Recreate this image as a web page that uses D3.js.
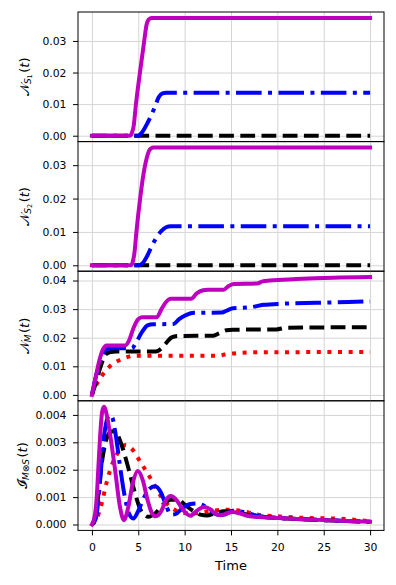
<!DOCTYPE html>
<html>
<head>
<meta charset="utf-8">
<script src="https://cdn.jsdelivr.net/npm/d3@7"></script>
<style>
  body { margin: 0; background: #fff; }
  text { font-family: "DejaVu Sans", sans-serif; }
</style>
</head>
<body>
<div id="chart"></div>
<script>
// ---------------- data ----------------
var xTicks = [0, 5, 10, 15, 20, 25, 30];
var yTicks1 = [0, 0.01, 0.02, 0.03];
var yTicks2 = [0, 0.01, 0.02, 0.03];
var yTicks3 = [0, 0.01, 0.02, 0.03, 0.04];
var yTicks4 = [0, 0.001, 0.002, 0.003, 0.004];

// panel 1 : N_S1(t)
var s1Black = [[0, 0], [30, 0]];
var s1Blue = [[0, 0], [5.0, 0], [5.4, 0.001], [5.9, 0.0035], [6.4, 0.0065], [6.8, 0.0092],
  [7.2, 0.0122], [7.6, 0.0134], [8.0, 0.0136], [30, 0.0136]];
var s1Magenta = [[0, 0], [4.1, 0], [4.3, 0.0008], [4.5, 0.003], [4.75, 0.01], [5.18, 0.02],
  [5.64, 0.03], [5.9, 0.0352], [6.1, 0.0367], [6.4, 0.0373], [30, 0.0373]];

// panel 2 : N_S2(t)
var s2Black = [[0, 0], [30, 0]];
var s2Blue = [[0, 0], [5.1, 0], [5.5, 0.0007], [6.0, 0.003], [6.5, 0.006], [7.0, 0.0085],
  [7.5, 0.0103], [8.0, 0.0114], [8.5, 0.0117], [30, 0.0117]];
var s2Magenta = [[0, 0], [4.2, 0], [4.4, 0.001], [4.6, 0.004], [4.8, 0.01], [5.2, 0.02],
  [5.6, 0.028], [5.9, 0.032], [6.2, 0.0345], [6.6, 0.0353], [30, 0.0353]];

// panel 3 : N_M(t)
var mRed = [[0, 0], [0.5, 0.0037], [1.0, 0.0063], [1.5, 0.0085], [2.0, 0.0102], [2.5, 0.0114],
  [3.0, 0.0122], [3.5, 0.0129], [4.0, 0.0134], [4.5, 0.0137], [13.6, 0.0137], [14.3, 0.0141],
  [15.0, 0.0144], [16, 0.0147], [18, 0.0149], [30, 0.015]];
var mBlack = [[0, 0], [0.5, 0.005], [0.9, 0.0095], [1.5, 0.0142], [2.0, 0.015], [2.6, 0.0152],
  [6.9, 0.0152], [7.5, 0.0163], [8.05, 0.0183], [8.6, 0.0201], [9.3, 0.0206], [13.1, 0.0207],
  [13.7, 0.0215], [14.5, 0.0226], [15.2, 0.0228], [19.9, 0.0229], [21, 0.0235], [25, 0.0236], [30, 0.0237]];
var mBlue = [[0, 0], [0.4, 0.006], [0.8, 0.011], [1.2, 0.0145], [1.6, 0.016], [2.2, 0.0163],
  [4.3, 0.0163], [4.8, 0.0185], [5.4, 0.022], [6.0, 0.0243], [6.6, 0.0247], [8.8, 0.0248],
  [9.4, 0.0265], [10.2, 0.028], [11.0, 0.0287], [14.0, 0.0288], [14.6, 0.0296], [15.2, 0.0303],
  [17, 0.0306], [18.5, 0.0315], [20.6, 0.0319], [24.2, 0.0322], [30, 0.0327]];
var mMagenta = [[0, 0], [0.4, 0.006], [0.8, 0.012], [1.2, 0.016], [1.6, 0.0173], [3.6, 0.0173],
  [4.0, 0.019], [4.5, 0.0235], [5.0, 0.0265], [5.4, 0.0272], [7.0, 0.0272], [7.5, 0.030],
  [8.0, 0.0325], [8.5, 0.0336], [10.7, 0.0336], [11.3, 0.0355], [12.0, 0.0366], [12.5, 0.0368],
  [14.2, 0.0368], [14.7, 0.038], [15.3, 0.0388], [17.8, 0.039], [18.4, 0.0397], [19.2, 0.040],
  [22, 0.0405], [26, 0.041], [30, 0.0412]];

// panel 4 : I_{M(x)S}(t)
var iRed = [[0, 0], [0.5, 0.0002], [1.0, 0.0007], [1.6, 0.00155], [2.3, 0.0023], [3.0, 0.0027],
  [3.6, 0.0029], [4.2, 0.0028], [5.2, 0.0023], [6.3, 0.0017], [7.5, 0.001], [8.6, 0.0006],
  [9.6, 0.00045], [10.8, 0.0004], [12, 0.00045], [13, 0.0005], [14.3, 0.00054], [15.6, 0.00052],
  [16.7, 0.00046], [17.9, 0.00036], [20, 0.0003], [22.4, 0.00025], [27.3, 0.0002], [30, 0.00012]];
var iBlack = [[0, 0], [0.3, 0.00015], [0.7, 0.0011], [1.05, 0.0022], [1.4, 0.0029], [1.8, 0.0033],
  [2.2, 0.0034], [2.7, 0.0033], [3.3, 0.0028], [3.9, 0.0021], [4.6, 0.0012], [5.3, 0.0005],
  [6.1, 0.00028], [6.8, 0.0004], [7.6, 0.0007], [8.5, 0.0009], [9.3, 0.0009], [10.1, 0.0007],
  [10.9, 0.0005], [11.7, 0.00036], [12.4, 0.00033], [13.2, 0.0004], [14.2, 0.00048], [15.0, 0.00048],
  [16, 0.00042], [17, 0.00034], [18, 0.0003], [21, 0.00022], [25, 0.00016], [30, 0.0001]];
var iBlue = [[0, 0], [0.4, 0.0002], [0.7, 0.0009], [1.0, 0.0021], [1.3, 0.0032], [1.6, 0.0038],
  [1.9, 0.004], [2.2, 0.0039], [2.6, 0.0032], [3.0, 0.0022], [3.5, 0.0011], [4.0, 0.0004],
  [4.45, 0.00022], [5.0, 0.0005], [5.5, 0.0009], [6.2, 0.0013], [6.8, 0.0014], [7.4, 0.0012],
  [8.0, 0.0007], [8.5, 0.00036], [9.0, 0.00038], [9.8, 0.0006], [10.6, 0.00075], [11.3, 0.00077],
  [12.0, 0.0007], [12.8, 0.0005], [13.6, 0.00036], [14.2, 0.00036], [15.2, 0.0005], [16, 0.00048],
  [17, 0.0004], [18, 0.0003], [21, 0.00022], [25, 0.00016], [30, 0.0001]];
var iMagenta = [[0, 0], [0.3, 0.0003], [0.5, 0.0009], [0.7, 0.0021], [0.9, 0.0033], [1.1, 0.0041],
  [1.3, 0.0043], [1.6, 0.004], [2.0, 0.0032], [2.5, 0.002], [3.0, 0.0007], [3.45, 0.00016],
  [3.9, 0.0006], [4.4, 0.0015], [4.95, 0.00195], [5.5, 0.0016], [6.0, 0.0009], [6.5, 0.0004],
  [6.9, 0.0003], [7.5, 0.0005], [8.0, 0.0009], [8.5, 0.00104], [9.1, 0.0009], [9.7, 0.0006],
  [10.2, 0.0004], [10.6, 0.00032], [11.3, 0.0005], [12.1, 0.00064], [12.8, 0.00055], [13.3, 0.0004],
  [13.9, 0.00034], [14.5, 0.0004], [15.2, 0.00046], [16, 0.0004], [17, 0.0003], [18, 0.00027],
  [21, 0.00022], [25, 0.00016], [30, 0.0001]];

// ---------------- layout ----------------
var W = 396, H = 585;
var plotL = 78, plotR = 384, plotT = 12, panelH = 129.6;
var LW = 4;
var tickFont = "10.8px";

var styles = {
  red:     { color: "#ff0000", dash: [LW * 1, LW * 1.65].join(",") },
  black:   { color: "#000000", dash: [LW * 3.7, LW * 1.6].join(",") },
  blue:    { color: "#0000ff", dash: [LW * 6.4, LW * 1.6, LW * 1, LW * 1.6].join(",") },
  magenta: { color: "#bf00bf", dash: null }
};

var panels = [
  { ticks: yTicks1, fmt: ".2f", label: ["𝒩", "S", "1"], series: [["black", s1Black], ["blue", s1Blue], ["magenta", s1Magenta]] },
  { ticks: yTicks2, fmt: ".2f", label: ["𝒩", "S", "2"], series: [["black", s2Black], ["blue", s2Blue], ["magenta", s2Magenta]] },
  { ticks: yTicks3, fmt: ".2f", label: ["𝒩", "M", null], series: [["red", mRed], ["black", mBlack], ["blue", mBlue], ["magenta", mMagenta]] },
  { ticks: yTicks4, fmt: ".3f", label: ["𝓘", "M⊗S", null], series: [["red", iRed], ["black", iBlack], ["blue", iBlue], ["magenta", iMagenta]] }
];

var svg = d3.select("#chart").append("svg")
  .attr("width", W)
  .attr("height", H);

var x = d3.scaleLinear().domain([-1.5, 31.5]).range([plotL, plotR]);

panels.forEach(function(p, i) {
  var y0 = plotT + i * panelH, y1 = y0 + panelH;
  var allV = [];
  p.series.forEach(function(s) { s[1].forEach(function(d) { allV.push(d[1]); }); });
  var lo = d3.min(allV), hi = d3.max(allV), pad = (hi - lo) * 0.05;
  var y = d3.scaleLinear().domain([lo - pad, hi + pad]).range([y1, y0]);

  var g = svg.append("g");

  // grid
  g.append("g")
    .attr("transform", "translate(0," + y1 + ")")
    .call(d3.axisBottom(x).tickValues(xTicks).tickSize(-panelH).tickFormat(""))
    .call(function(a) { a.select(".domain").remove(); a.selectAll("line").attr("stroke", "#d5d5d5").attr("stroke-width", 1); });
  g.append("g")
    .attr("transform", "translate(" + plotL + ",0)")
    .call(d3.axisLeft(y).tickValues(p.ticks).tickSize(-(plotR - plotL)).tickFormat(""))
    .call(function(a) { a.select(".domain").remove(); a.selectAll("line").attr("stroke", "#d5d5d5").attr("stroke-width", 1); });

  // lines
  var clipId = "clip" + i;
  svg.append("defs").append("clipPath").attr("id", clipId)
    .append("rect").attr("x", plotL).attr("y", y0).attr("width", plotR - plotL).attr("height", panelH);

  var line = d3.line()
    .x(function(d) { return x(d[0]); })
    .y(function(d) { return y(d[1]); })
    .curve(d3.curveMonotoneX);

  var lg = g.append("g").attr("clip-path", "url(#" + clipId + ")");
  p.series.forEach(function(s) {
    var st = styles[s[0]];
    lg.append("path")
      .datum(s[1])
      .attr("d", line)
      .attr("fill", "none")
      .attr("stroke", st.color)
      .attr("stroke-width", LW)
      .attr("stroke-linejoin", "round")
      .attr("stroke-linecap", st.dash ? "butt" : "square")
      .attr("stroke-dasharray", st.dash);
  });

  // y axis
  var ya = g.append("g")
    .attr("transform", "translate(" + plotL + ",0)")
    .call(d3.axisLeft(y).tickValues(p.ticks).tickSize(5).tickPadding(6.5).tickFormat(d3.format(p.fmt)));
  ya.select(".domain").remove();
  ya.selectAll("text").attr("font-size", tickFont).attr("font-family", "DejaVu Sans").attr("fill", "#000");
  ya.selectAll("line").attr("stroke", "#000").attr("stroke-width", 1);

  // frame
  g.append("rect")
    .attr("x", plotL).attr("y", y0).attr("width", plotR - plotL).attr("height", panelH)
    .attr("fill", "none").attr("stroke", "#000").attr("stroke-width", 1);

  // y label (mathtext-like)
  var lx = i == 3 ? 23 : 25;
  var lt = g.append("text")
    .attr("transform", "translate(" + lx + "," + ((y0 + y1) / 2) + ") rotate(-90)")
    .attr("text-anchor", "middle")
    .attr("dominant-baseline", "middle")
    .attr("font-size", "13px")
    .attr("fill", "#000");
  lt.append("tspan").attr("font-family", "DejaVu Serif").text(p.label[0]);
  lt.append("tspan").attr("font-style", "italic").attr("font-size", "9px").attr("dy", 3).text(p.label[1]);
  var back = 3;
  if (p.label[2]) {
    lt.append("tspan").attr("font-size", "6.5px").attr("dy", 1.8).text(p.label[2]);
    back = 4.8;
  }
  lt.append("tspan").attr("dy", -back).attr("dx", 1.5).text("(");
  lt.append("tspan").attr("font-style", "italic").text("t");
  lt.append("tspan").text(")");

  // x axis on last panel
  if (i == 3) {
    var xa = g.append("g")
      .attr("transform", "translate(0," + y1 + ")")
      .call(d3.axisBottom(x).tickValues(xTicks).tickSize(5).tickPadding(7.5).tickFormat(d3.format("d")));
    xa.select(".domain").remove();
    xa.selectAll("text").attr("font-size", tickFont).attr("font-family", "DejaVu Sans").attr("fill", "#000");
    xa.selectAll("line").attr("stroke", "#000").attr("stroke-width", 1);

    g.append("text")
      .attr("x", (plotL + plotR) / 2)
      .attr("y", 569.5)
      .attr("text-anchor", "middle")
      .attr("font-size", "13px")
      .attr("fill", "#000")
      .text("Time");
  }
});
</script>
</body>
</html>
